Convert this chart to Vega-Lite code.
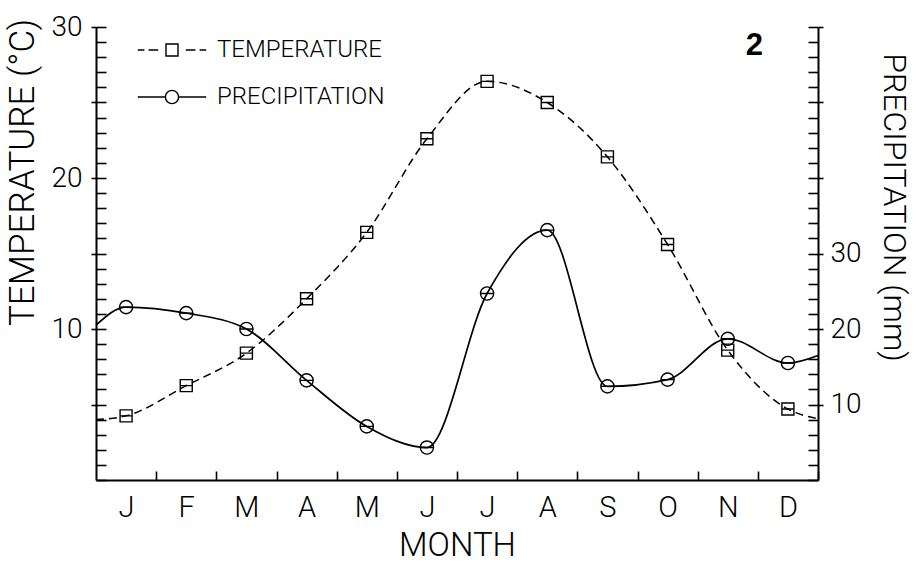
{
  "$schema": "https://vega.github.io/schema/vega-lite/v6.json",
  "width": 722,
  "height": 453,
  "autosize": {"type": "none"},
  "padding": {"left": 96, "top": 27, "right": 100, "bottom": 83},
  "background": "white",
  "config": {
    "view": {"stroke": null},
    "font": "Roboto",
    "axis": {
      "domainColor": "black", "tickColor": "black", "labelColor": "black", "titleColor": "black",
      "grid": false, "labelFont": "Roboto", "titleFont": "Roboto",
      "labelFontWeight": 300, "titleFontWeight": 300,
      "domainWidth": 2, "tickWidth": 1.6, "labelOverlap": false, "labelFlush": false
    }
  },
  "title": {
    "text": "2", "anchor": "end", "orient": "top", "font": "Liberation Sans", "fontSize": 31,
    "fontWeight": "bold", "color": "black", "baseline": "alphabetic", "offset": 0, "dx": -146, "dy": 73
  },
  "data": {
    "values": [
      {"series": "TEMPERATURE", "month": 0.5, "value": 4.0, "observed": false},
      {"series": "TEMPERATURE", "month": 1, "value": 4.25, "observed": true},
      {"series": "TEMPERATURE", "month": 2, "value": 6.25, "observed": true},
      {"series": "TEMPERATURE", "month": 3, "value": 8.4, "observed": true},
      {"series": "TEMPERATURE", "month": 4, "value": 12.0, "observed": true},
      {"series": "TEMPERATURE", "month": 5, "value": 16.4, "observed": true},
      {"series": "TEMPERATURE", "month": 6, "value": 22.6, "observed": true},
      {"series": "TEMPERATURE", "month": 7, "value": 26.4, "observed": true},
      {"series": "TEMPERATURE", "month": 8, "value": 25.0, "observed": true},
      {"series": "TEMPERATURE", "month": 9, "value": 21.4, "observed": true},
      {"series": "TEMPERATURE", "month": 10, "value": 15.6, "observed": true},
      {"series": "TEMPERATURE", "month": 11, "value": 8.6, "observed": true},
      {"series": "TEMPERATURE", "month": 12, "value": 4.7, "observed": true},
      {"series": "TEMPERATURE", "month": 12.5, "value": 4.05, "observed": false},
      {"series": "PRECIPITATION", "month": 0.5, "value": 20.5, "observed": false},
      {"series": "PRECIPITATION", "month": 1, "value": 22.9, "observed": true},
      {"series": "PRECIPITATION", "month": 2, "value": 22.1, "observed": true},
      {"series": "PRECIPITATION", "month": 3, "value": 20.0, "observed": true},
      {"series": "PRECIPITATION", "month": 4, "value": 13.2, "observed": true},
      {"series": "PRECIPITATION", "month": 5, "value": 7.1, "observed": true},
      {"series": "PRECIPITATION", "month": 6, "value": 4.3, "observed": true},
      {"series": "PRECIPITATION", "month": 7, "value": 24.7, "observed": true},
      {"series": "PRECIPITATION", "month": 8, "value": 33.1, "observed": true},
      {"series": "PRECIPITATION", "month": 9, "value": 12.4, "observed": true},
      {"series": "PRECIPITATION", "month": 10, "value": 13.3, "observed": true},
      {"series": "PRECIPITATION", "month": 11, "value": 18.7, "observed": true},
      {"series": "PRECIPITATION", "month": 12, "value": 15.5, "observed": true},
      {"series": "PRECIPITATION", "month": 12.5, "value": 16.5, "observed": false}
    ]
  },
  "encoding": {
    "x": {
      "field": "month", "type": "quantitative",
      "scale": {"domain": [0.5, 12.5], "nice": false, "zero": false},
      "axis": {
        "orient": "bottom",
        "values": [1.5, 2.5, 3.5, 4.5, 5.5, 6.5, 7.5, 8.5, 9.5, 10.5, 11.5, 12.5],
        "tickSize": -9,
        "labelOffset": -30.08,
        "labelExpr": "['J','F','M','A','M','J','J','A','S','O','N','D'][round(datum.value - 1.5)]",
        "labelFontSize": 29,
        "labelPadding": 22,
        "title": "MONTH",
        "titleFontSize": 33,
        "titleX": 361,
        "titleY": 82,
        "titleBaseline": "bottom",
        "titleAlign": "center"
      }
    }
  },
  "layer": [
    {
      "transform": [{"filter": "datum.series === 'TEMPERATURE'"}],
      "encoding": {
        "y": {
          "field": "value", "type": "quantitative",
          "scale": {"domain": [0, 30], "nice": false, "zero": false},
          "axis": {
            "orient": "left",
            "values": [0,1,2,3,4,5,6,7,8,9,10,11,12,13,14,15,16,17,18,19,20,21,22,23,24,25,26,27,28,29,30],
            "tickSize": -10,
            "labelExpr": "datum.value % 10 === 0 && datum.value > 0 ? datum.label : ''",
            "labelFontSize": 28,
            "labelPadding": 24,
            "title": "TEMPERATURE (°C)",
            "titleFontSize": 35,
            "titleAngle": -90,
            "titleAlign": "center",
            "titleBaseline": "alphabetic",
            "titleX": -63,
            "titleY": 145
          }
        }
      },
      "layer": [
        {"mark": {"type": "line", "interpolate": "monotone", "strokeDash": [8, 5], "color": "black", "strokeWidth": 1.5}},
        {
          "transform": [{"filter": "datum.observed"}],
          "mark": {"type": "point", "filled": false, "opacity": 1, "color": "black", "strokeWidth": 1.4, "size": 144, "shape": "M-1,-1H1V1H-1ZM-1,0H1"}
        }
      ]
    },
    {
      "transform": [{"filter": "datum.series === 'PRECIPITATION'"}],
      "encoding": {
        "y": {
          "field": "value", "type": "quantitative",
          "scale": {"domain": [0, 60], "nice": false, "zero": false},
          "axis": {
            "orient": "right",
            "values": [0,2,4,6,8,10,12,14,16,18,20,22,24,26,28,30,32,34,36,38,40,42,44,46,48,50,52,54,56,58,60],
            "tickSize": -10,
            "labelExpr": "datum.value % 10 === 0 && datum.value > 0 && datum.value <= 30 ? datum.label : ''",
            "labelFontSize": 28,
            "labelPadding": 22,
            "title": "PRECIPITATION (mm)",
            "titleFontSize": 32,
            "titleAngle": 90,
            "titleAlign": "center",
            "titleBaseline": "alphabetic",
            "titleX": 65,
            "titleY": 180
          }
        }
      },
      "layer": [
        {"mark": {"type": "line", "interpolate": "monotone", "color": "black", "strokeWidth": 1.7}},
        {
          "transform": [{"filter": "datum.observed"}],
          "mark": {"type": "point", "filled": false, "opacity": 1, "color": "black", "strokeWidth": 1.4, "size": 144, "shape": "M-1.1,0A1.1,1.1 0 1 0 1.1,0A1.1,1.1 0 1 0 -1.1,0ZM-1.1,0H1.1"}
        }
      ]
    },
    {
      "transform": [{"filter": "datum.observed"}],
      "mark": {"type": "point", "filled": false, "opacity": 1, "color": "black", "size": 0},
      "encoding": {
        "shape": {
          "field": "series", "type": "nominal",
          "scale": {
            "domain": ["TEMPERATURE", "PRECIPITATION"],
            "range": [
              "M-5.7,0H-4.6M-3.9,0H-2.3M-1,-1H1V1H-1ZM2.3,0H3.9M4.6,0H5.7",
              "M-5.7,0H-1.1M1.1,0H5.7M-1.1,0A1.1,1.1 0 1 0 1.1,0A1.1,1.1 0 1 0 -1.1,0Z"
            ]
          },
          "legend": {
            "title": null, "orient": "none", "legendX": 64, "legendY": 11,
            "symbolSize": 144, "symbolStrokeWidth": 1.4, "symbolStrokeColor": "black", "symbolFillColor": "transparent",
            "symbolOpacity": 1,
            "labelFont": "Roboto", "labelFontSize": 24, "labelFontWeight": 300, "labelColor": "black",
            "labelOffset": 33, "rowPadding": 23, "labelLimit": 0
          }
        }
      }
    },
    {
      "transform": [{"filter": "datum.series === 'TEMPERATURE'"}],
      "mark": {"type": "point", "opacity": 0},
      "encoding": {
        "y": {
          "field": "value", "type": "quantitative",
          "scale": {"domain": [0, 30], "nice": false, "zero": false},
          "axis": {"orient": "left", "values": [5, 10, 15, 20, 25, 30], "tickSize": 5, "labels": false, "domain": false, "title": null}
        }
      }
    },
    {
      "transform": [{"filter": "datum.series === 'PRECIPITATION'"}],
      "mark": {"type": "point", "opacity": 0},
      "encoding": {
        "y": {
          "field": "value", "type": "quantitative",
          "scale": {"domain": [0, 60], "nice": false, "zero": false},
          "axis": {"orient": "right", "values": [10, 20, 30, 40, 50, 60], "tickSize": 5, "labels": false, "domain": false, "title": null}
        }
      }
    }
  ],
  "resolve": {"scale": {"y": "independent"}}
}
